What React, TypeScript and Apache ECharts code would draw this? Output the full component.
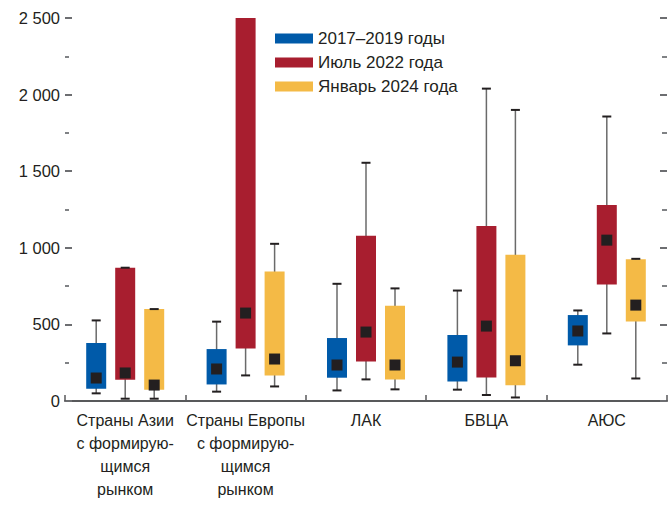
import React, { useEffect, useRef } from "react";
import * as echarts from "echarts";

const categories = [
  "Страны Азии\nс формирую-\nщимся\nрынком",
  "Страны Европы\nс формирую-\nщимся\nрынком",
  "ЛАК",
  "БВЦА",
  "АЮС",
];

const seriesNames = ["2017–2019 годы", "Июль 2022 года", "Январь 2024 года"];
const seriesColors = ["#005aa9", "#a81e2f", "#f4ba46"];

// [min, q1, marker, q3, max]
const period2017 = [
  [50, 80, 150, 378, 526],
  [61, 108, 209, 339, 518],
  [69, 152, 235, 411, 765],
  [74, 128, 254, 430, 721],
  [237, 363, 457, 561, 591],
];
const period2022 = [
  [15, 139, 183, 870, 870],
  [167, 343, 574, 2600, 2600],
  [141, 258, 450, 1078, 1555],
  [39, 154, 489, 1143, 2039],
  [441, 761, 1050, 1280, 1857],
];
const period2024 = [
  [15, 74, 104, 600, 600],
  [95, 167, 274, 846, 1026],
  [76, 141, 235, 622, 735],
  [23, 102, 263, 954, 1900],
  [147, 519, 626, 926, 928],
];

const yTicks = [0, 500, 1000, 1500, 2000, 2500];

const FONT = "'Liberation Sans', Arial, sans-serif";

export default function App() {
  const ref = useRef<HTMLDivElement>(null);

  useEffect(() => {
    if (!ref.current) return;
    const chart = echarts.init(ref.current, null, { renderer: "svg" });
    const all = [period2017, period2022, period2024];
    const offsets = [-29, 0, 29];

    const makeRender = (si: number) => (params: any, api: any) => {
      const idx = api.value(0);
      const cx = api.coord([idx, 0])[0] + offsets[si];
      const yMin = api.coord([idx, api.value(1)])[1];
      const yQ1 = api.coord([idx, api.value(2)])[1];
      const yMed = api.coord([idx, api.value(3)])[1];
      const yQ3 = api.coord([idx, api.value(4)])[1];
      const yMax = api.coord([idx, api.value(5)])[1];
      const top = params.coordSys.y;
      const clampY = (y: number) => Math.max(y, top);
      const children: any[] = [
        {
          type: "line",
          shape: { x1: cx, y1: clampY(yMax), x2: cx, y2: yMin },
          style: { stroke: "#6a6a6a", lineWidth: 1.5 },
        },
        {
          type: "rect",
          shape: { x: cx - 10, y: clampY(yQ3), width: 20, height: yQ1 - clampY(yQ3) },
          style: { fill: seriesColors[si] },
        },
        {
          type: "line",
          shape: { x1: cx - 4.5, y1: yMin, x2: cx + 4.5, y2: yMin },
          style: { stroke: "#231f20", lineWidth: 2 },
        },
        {
          type: "rect",
          shape: { x: cx - 5.5, y: yMed - 5.5, width: 11, height: 11 },
          style: { fill: "#231f20" },
        },
      ];
      if (yMax >= top) {
        children.push({
          type: "line",
          shape: { x1: cx - 4.5, y1: yMax, x2: cx + 4.5, y2: yMax },
          style: { stroke: "#231f20", lineWidth: 2 },
        });
      }
      return { type: "group", children };
    };

    const series = all.map((arr, si) => ({
      name: seriesNames[si],
      type: "custom",
      renderItem: makeRender(si),
      itemStyle: { color: seriesColors[si] },
      encode: { x: 0, y: [1, 2, 3, 4, 5] },
      data: arr.map((v, i) => [i, ...v]),
      z: 3,
    }));

    const fmt = (v: number) => {
      if (!yTicks.includes(v)) return "";
      return String(v).replace(/\B(?=(\d{3})+(?!\d))/g, " ");
    };

    chart.setOption({
      animation: false,
      textStyle: { fontFamily: FONT },
      grid: { left: 65, right: 5, top: 18, bottom: 105, containLabel: false },
      legend: {
        orient: "vertical",
        left: 270,
        top: 25,
        icon: "rect",
        itemWidth: 38,
        itemHeight: 10,
        itemGap: 7,
        selectedMode: false,
        textStyle: { fontSize: 17, color: "#231f20", fontFamily: FONT, lineHeight: 17 },
        data: seriesNames,
      },
      xAxis: {
        type: "category",
        data: categories,
        axisLine: { show: true, lineStyle: { color: "#58595b", width: 2 } },
        axisTick: { show: true, inside: true, length: 6, interval: 0, lineStyle: { color: "#58595b", width: 1.5 } },
        axisLabel: { interval: 0, margin: 8, fontSize: 16, lineHeight: 23, color: "#231f20", fontFamily: FONT },
        splitLine: { show: false },
      },
      yAxis: [
        {
          type: "value",
          min: 0,
          max: 2500,
          interval: 500,
          position: "left",
          axisLine: { show: false },
          axisTick: { show: true, inside: true, length: 7, lineStyle: { color: "#6d6e71", width: 2 } },
          minorTick: { show: true, splitNumber: 2, length: 4, lineStyle: { color: "#808285", width: 2 } },
          axisLabel: { margin: 5, fontSize: 16.5, color: "#231f20", fontFamily: FONT, formatter: fmt },
          splitLine: { show: false },
          minorSplitLine: { show: false },
        },
        {
          type: "value",
          min: 0,
          max: 2500,
          interval: 500,
          position: "right",
          axisLine: { show: false },
          axisTick: { show: true, inside: true, length: 7, lineStyle: { color: "#6d6e71", width: 2 } },
          minorTick: { show: true, splitNumber: 2, length: 5, lineStyle: { color: "#808285", width: 2 } },
          axisLabel: { show: false },
          splitLine: { show: false },
          minorSplitLine: { show: false },
        },
      ],
      series,
    });
    return () => chart.dispose();
  }, []);

  return (
    <div
      ref={ref}
      style={{ position: "fixed", left: 0, top: 0, width: 672, height: 506, background: "#fff" }}
    />
  );
}
